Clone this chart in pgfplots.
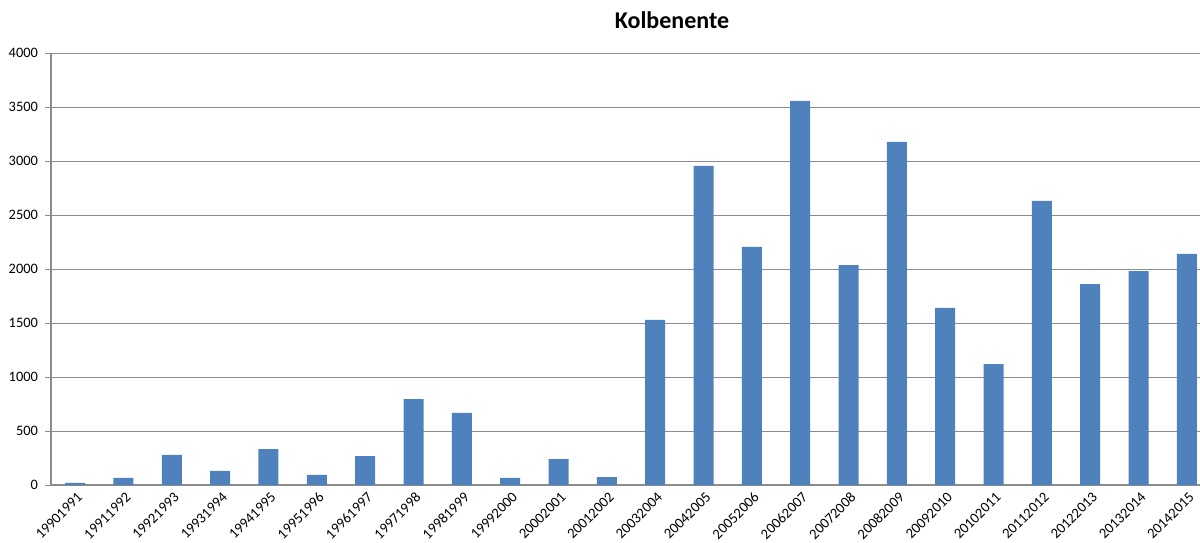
\documentclass[border=0pt]{standalone}
\usepackage{pgfplots}
\pgfplotsset{compat=1.18}
\usepackage{fontspec}
\setmainfont{Carlito}
\definecolor{barblue}{HTML}{4F81BD}
\definecolor{gridgray}{HTML}{8C8C8C}
\begin{document}
\begin{tikzpicture}[x=1pt,y=1pt]
\useasboundingbox (0,0) rectangle (600,271);
\node[font=\fontsize{12}{14}\selectfont\bfseries] at (336,261) {Kolbenente};
\begin{axis}[
  at={(25.5pt,28.5pt)}, anchor=south west,
  scale only axis, width=580pt, height=216pt,
  ymin=0, ymax=4000, ytick={0,500,...,4000},
  xmin=-0.5, xmax=23.5,
  ybar, bar width=10pt,
  axis x line*=bottom, axis y line*=left,
  axis line style={-, draw=gridgray, line width=0.6pt},
  ymajorgrids, grid style={draw=gridgray, line width=0.5pt},
  tick align=outside,
  xtick=data,
  xticklabels={19901991,19911992,19921993,19931994,19941995,19951996,19961997,19971998,19981999,19992000,20002001,20012002,20032004,20042005,20052006,20062007,20072008,20082009,20092010,20102011,20112012,20122013,20132014,20142015},
  x tick label style={rotate=45, anchor=east, inner sep=0.5pt, font=\fontsize{7.3}{8}\selectfont, xshift=1pt, yshift=-3pt},
  y tick label style={font=\fontsize{7.2}{8}\selectfont},
  /pgf/number format/assume math mode=true,
  /pgf/number format/1000 sep={},
  major x tick style={draw=none},
  extra x ticks={-0.5,0.5,...,23.5},
  extra x tick labels={},
  extra x tick style={major tick length=3pt, tick style={draw=gridgray, line width=0.5pt}, grid=none},
  major y tick style={draw=gridgray, line width=0.5pt},
  major tick length=3pt,
]
\addplot[fill=barblue, draw=none] coordinates {
  (0,20) (1,65) (2,278) (3,130) (4,333) (5,93) (6,268) (7,796)
  (8,667) (9,65) (10,240) (11,74) (12,1528) (13,2954) (14,2204)
  (15,3556) (16,2037) (17,3176) (18,1639) (19,1120) (20,2630)
  (21,1861) (22,1981) (23,2139)
};
\end{axis}
\end{tikzpicture}
\end{document}
